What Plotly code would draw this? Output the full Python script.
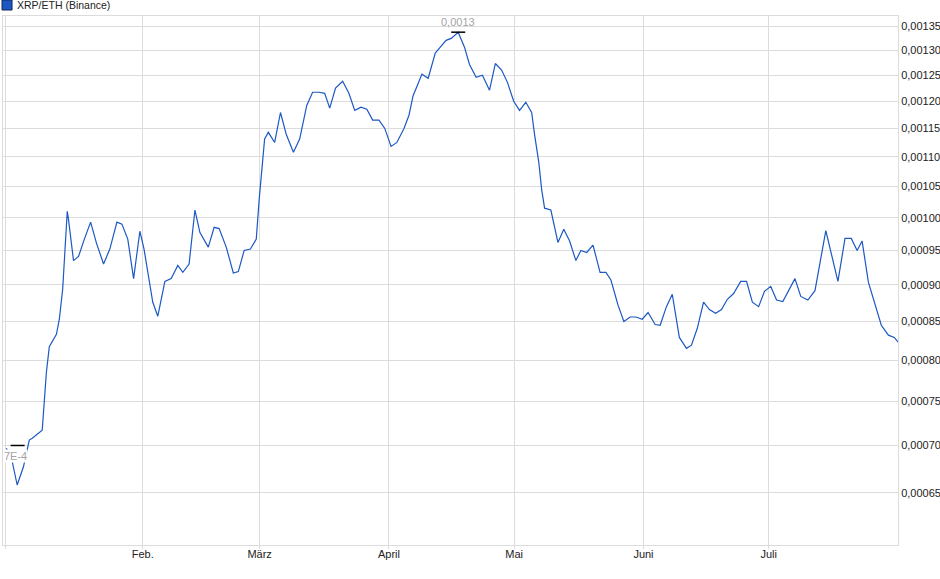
import numpy as np
import pandas as pd
import plotly.graph_objects as go

# -- datos leidos del grafico XRP/ETH (Binance) -- #
# dias desde el 01.01.2025
day_offsets = [-1.7, -0.5, 0.9, 2.4, 3.8, 4.5, 6.9, 7.9, 8.6, 9.6, 10.3, 11.0, 11.8, 12.9, 13.2,
               14.4, 15.6, 17.0, 18.5, 19.9, 21.6, 23.1, 24.8, 26.0, 27.4, 28.8, 30.3, 31.3, 32.5,
               33.4, 34.6, 36.3, 37.8, 39.4, 40.6, 42.1, 43.5, 44.7, 46.7, 48.1, 49.3, 51.0, 52.7,
               53.9, 55.3, 56.8, 58.2, 58.9, 60.2, 61.1, 62.6, 64.0, 65.4, 67.1, 68.6, 70.3, 71.7,
               73.2, 74.6, 75.8, 77.2, 78.9, 80.4, 81.8, 83.3, 84.7, 86.1, 87.6, 89.0, 90.5, 91.9,
               93.6, 94.8, 95.8, 96.8, 97.9, 99.4, 101.1, 102.3, 103.7, 104.9, 106.6, 108.1, 109.3,
               110.9, 112.4, 114.1, 115.5, 117.0, 118.4, 119.9, 121.3, 122.8, 124.2, 124.9, 125.9,
               126.6, 127.3, 128.8, 130.5, 131.9, 133.3, 134.8, 136.0, 137.4, 138.9, 140.6, 142.0,
               143.2, 144.9, 146.3, 147.8, 149.2, 150.7, 152.1, 153.8, 155.0, 156.5, 157.9, 159.6,
               161.3, 162.5, 163.9, 165.4, 166.8, 168.3, 169.7, 171.1, 172.6, 174.3, 175.7, 177.1,
               178.6, 180.0, 181.5, 182.9, 184.4, 185.8, 187.3, 188.7, 190.4, 192.1, 193.5, 194.7,
               196.1, 197.6, 199.3, 200.8, 202.2, 203.4, 204.9, 206.6, 208.0, 209.7, 211.1, 212.5]

prices = [0.000697, 0.000687, 0.000658, 0.000677, 0.000706, 0.000708, 0.000717, 0.000785, 0.000817,
          0.000827, 0.000833, 0.000853, 0.000894, 0.001010, 0.000997, 0.000935, 0.000941, 0.000967,
          0.000993, 0.000961, 0.000930, 0.000952, 0.000993, 0.000990, 0.000967, 0.000909, 0.000979,
          0.000952, 0.000904, 0.000876, 0.000857, 0.000905, 0.000909, 0.000928, 0.000918, 0.000930,
          0.001012, 0.000977, 0.000955, 0.000985, 0.000983, 0.000955, 0.000917, 0.000919, 0.000950,
          0.000952, 0.000967, 0.001029, 0.001131, 0.001143, 0.001125, 0.001179, 0.001139, 0.001108,
          0.001131, 0.001192, 0.001217, 0.001217, 0.001215, 0.001187, 0.001225, 0.001238, 0.001215,
          0.001183, 0.001189, 0.001185, 0.001165, 0.001165, 0.001150, 0.001118, 0.001125, 0.001150,
          0.001174, 0.001211, 0.001230, 0.001252, 0.001244, 0.001294, 0.001306, 0.001320, 0.001324,
          0.001337, 0.001306, 0.001271, 0.001246, 0.001250, 0.001221, 0.001273, 0.001260, 0.001236,
          0.001200, 0.001183, 0.001198, 0.001179, 0.001139, 0.001091, 0.001045, 0.001015, 0.001012,
          0.000962, 0.000982, 0.000964, 0.000935, 0.000950, 0.000947, 0.000958, 0.000918, 0.000918,
          0.000907, 0.000872, 0.000850, 0.000856, 0.000856, 0.000853, 0.000862, 0.000846, 0.000845,
          0.000870, 0.000887, 0.000829, 0.000815, 0.000819, 0.000841, 0.000876, 0.000866, 0.000861,
          0.000866, 0.000880, 0.000888, 0.000905, 0.000905, 0.000876, 0.000870, 0.000891, 0.000898,
          0.000879, 0.000877, 0.000892, 0.000909, 0.000884, 0.000879, 0.000892, 0.000940, 0.000980,
          0.000943, 0.000905, 0.000968, 0.000968, 0.000950, 0.000964, 0.000904, 0.000870, 0.000845,
          0.000832, 0.000829, 0.000820]

y_ticks = [0.00065, 0.00070, 0.00075, 0.00080, 0.00085, 0.00090, 0.00095, 0.00100,
           0.00105, 0.00110, 0.00115, 0.00120, 0.00125, 0.00130, 0.00135]
y_labels = ["0,00065", "0,00070", "0,00075", "0,00080", "0,00085", "0,00090", "0,00095",
            "0,00100", "0,00105", "0,00110", "0,00115", "0,00120", "0,00125", "0,00130",
            "0,00135"]
x_ticks = ["2024-12-30", "2025-02-01", "2025-03-01", "2025-04-01", "2025-05-01",
           "2025-06-01", "2025-07-01"]
x_labels = ["", "Feb.", "März", "April", "Mai", "Juni", "Juli"]

low_day, low_value, low_text = 1.0, 0.0007, "7E-4"
high_text = "0,0013"

line_color = "#1c58c4"
grid_color = "#dcdcdc"

dates = pd.Timestamp("2025-01-01") + pd.to_timedelta(day_offsets, unit="D")
i_max = int(np.argmax(prices))
low_date = pd.Timestamp("2025-01-01") + pd.Timedelta(days=low_day)

fig = go.Figure()

fig.add_trace(go.Scatter(x=dates, y=prices, mode="lines",
                         line=dict(color=line_color, width=1.2), showlegend=False))

# marcas de maximo / minimo
fig.add_trace(go.Scatter(x=[dates[i_max], low_date], y=[prices[i_max], low_value],
                         mode="markers", showlegend=False,
                         marker=dict(symbol="line-ew", size=10,
                                     line=dict(color="black", width=1.5))))

fig.add_annotation(x=dates[i_max], y=np.log10(prices[i_max]), text=high_text,
                   showarrow=False, yshift=10, font=dict(size=11, color="#a3a3a3"))
fig.add_annotation(x=low_date, y=np.log10(low_value), text=low_text,
                   showarrow=False, yshift=-11, xshift=-2, bgcolor="white", borderpad=0,
                   font=dict(size=11, color="#a3a3a3"))

# leyenda
fig.add_shape(type="rect", xref="paper", yref="paper", x0=-0.0011, x1=0.0101,
              y0=1.0113, y1=1.0302, fillcolor=line_color, line=dict(color="#1a2850", width=1))
fig.add_annotation(xref="paper", yref="paper", x=0.0134, y=1.0207, text="XRP/ETH (Binance)",
                   showarrow=False, xanchor="left", yanchor="middle",
                   font=dict(size=10.5, color="#222222"))

fig.update_layout(width=940, height=579, autosize=False,
                  margin=dict(l=3, r=42, t=16, b=34, pad=0),
                  paper_bgcolor="white", plot_bgcolor="white",
                  font=dict(family="Liberation Sans, Arial, sans-serif", size=11, color="#222222"),
                  xaxis=dict(type="date", range=["2024-12-29 12:00", "2025-08-01 00:00"],
                             tickvals=x_ticks, ticktext=x_labels, showgrid=True,
                             gridcolor=grid_color, gridwidth=1, showline=True, mirror=True,
                             linecolor=grid_color, ticks="outside", ticklen=3,
                             tickcolor=grid_color, zeroline=False, ticklabelstandoff=-4),
                  yaxis=dict(type="log", side="right", automargin=False,
                             range=[np.log10(0.000599), np.log10(0.0013713)],
                             tickvals=y_ticks, ticktext=y_labels, showgrid=True,
                             gridcolor=grid_color, gridwidth=1, showline=True, mirror=True,
                             linecolor=grid_color, ticks="", zeroline=False))

fig.write_html("out.html", config={"displayModeBar": False},
               post_script="document.body.style.margin='0px';")
